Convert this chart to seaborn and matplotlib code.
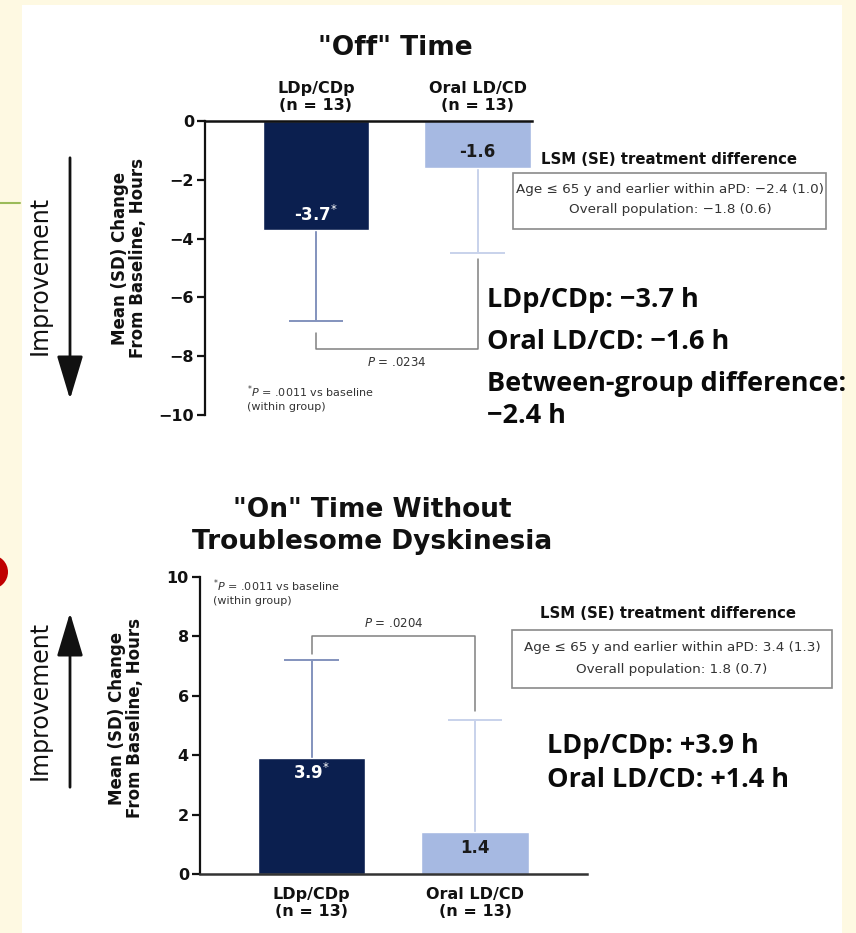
import matplotlib
matplotlib.use("Agg")
import matplotlib.pyplot as plt
import seaborn as sns
import pandas as pd
from matplotlib.patches import Rectangle, Ellipse, FancyArrowPatch
from matplotlib.lines import Line2D

# ---------------- data ----------------
groups = ["LDp/CDp\n(n = 13)", "Oral LD/CD\n(n = 13)"]
off_means = [-3.7, -1.6]
off_sd = [3.1, 2.9]
off_labels = ["-3.7", "-1.6"]
on_means = [3.9, 1.4]
on_sd = [3.3, 3.8]
on_labels = ["3.9", "1.4"]
star = [True, False]
off_ticks = [0, -2, -4, -6, -8, -10]
on_ticks = [0, 2, 4, 6, 8, 10]
off_p = r"$\mathit{P}$ = .0234"
on_p = r"$\mathit{P}$ = .0204"
footnote = "$^{*}\\mathit{P}$ = .0011 vs baseline\n(within group)"
off_box = ["Age \u2264 65 y and earlier within aPD: \u22122.4 (1.0)", "Overall population: \u22121.8 (0.6)"]
on_box = ["Age \u2264 65 y and earlier within aPD: 3.4 (1.3)", "Overall population: 1.8 (0.7)"]
off_summary = ["LDp/CDp: \u22123.7 h", "Oral LD/CD: \u22121.6 h", "Between-group difference:", "\u22122.4 h"]
on_summary = ["LDp/CDp: +3.9 h", "Oral LD/CD: +1.4 h"]

# ---------------- style ----------------
sns.set_theme(style="white")
plt.rcParams['font.family'] = ['DejaVu Sans']
plt.rcParams['axes.unicode_minus'] = True
plt.rcParams['mathtext.fontset'] = 'dejavusans'

W, H = 856, 933
fig = plt.figure(figsize=(W / 100, H / 100), dpi=100)
CREAM = "#FEF9E2"
fig.patch.set_facecolor(CREAM)

def fx(px):
    return px / W

def fy(py):
    return 1 - py / H

# white panel
fig.patches.append(Rectangle((fx(22), 0), fx(842) - fx(22), fy(5), transform=fig.transFigure,
                             facecolor="white", edgecolor="none", zorder=-5))
# decorative green line and red dot at left edge
fig.add_artist(Line2D([0, fx(20)], [fy(203), fy(203)], color="#9BBB59", lw=1.5, transform=fig.transFigure))
fig.add_artist(Ellipse((fx(-9), fy(572)), 34 / W, 34 / H, transform=fig.transFigure,
                       facecolor="#C00000", edgecolor="none"))

DARK = "#0B1F4F"
LIGHT = "#A6B9E2"
ERR_D = "#8393BD"
ERR_L = "#C8D2EB"
GRAY = "#808080"
INK = "#111111"
NOTE = "#333333"


def make_axes(left, right, top, bottom):
    return fig.add_axes([fx(left), fy(bottom), fx(right) - fx(left), fy(top) - fy(bottom)])


def draw_bars(ax, means, sds, labels, txt_y, xlim, ylim, ticks):
    df = pd.DataFrame({"group": groups, "value": means})
    sns.barplot(data=df, x="group", y="value", hue="group", palette=[DARK, LIGHT],
                width=0.66, saturation=1, legend=False, ax=ax, errorbar=None, zorder=2)
    for i, (m, s, c) in enumerate(zip(means, sds, [ERR_D, ERR_L])):
        end = m - s if m < 0 else m + s
        ax.vlines(i, m, end, color=c, lw=1.4, zorder=1)
        ax.hlines(end, i - 0.168, i + 0.168, color=c, lw=1.4, zorder=1)
    for i, (lab, ty) in enumerate(zip(labels, txt_y)):
        col = "white" if i == 0 else "#1a1a1a"
        s = lab + (r"$^{*}$" if star[i] else "")
        ax.text(i, ty, s, ha="center", va="center", color=col, fontsize=12, fontweight="bold", zorder=3)
    ax.set_xlim(*xlim)
    ax.set_ylim(*ylim)
    ax.set_yticks(ticks)
    ax.set_yticklabels([f"{t}".replace("-", "\u2212") for t in ticks], fontsize=11.5,
                       fontweight="bold", color=INK)
    ax.set_xlabel("")
    ax.set_ylabel("")
    ax.set_facecolor("none")
    ax.spines["right"].set_visible(False)
    ax.spines["left"].set_linewidth(1.6)
    ax.spines["left"].set_color(INK)
    ax.tick_params(axis="y", length=6, width=1.6, color=INK, pad=2, left=True)
    ax.tick_params(axis="x", length=0)


# ---------------- top chart ----------------
ax1 = make_axes(205, 532, 121, 415)
draw_bars(ax1, off_means, off_sd, off_labels, [-3.2, -1.05], (-0.687, 1.337), (-10, 0), off_ticks)
ax1.spines["bottom"].set_visible(False)
ax1.spines["top"].set_linewidth(1.8)
ax1.spines["top"].set_color(INK)
ax1.xaxis.tick_top()
ax1.set_xticks([0, 1])
ax1.set_xticklabels(groups, fontsize=11.5, fontweight="bold", linespacing=1.15, color=INK)
ax1.tick_params(axis="x", pad=6)
# significance bracket
ax1.plot([0, 0, 1, 1], [-7.2, -7.75, -7.75, -4.7], color=GRAY, lw=1.1, clip_on=False, zorder=1)
ax1.text(0.5, -8.2, off_p, ha="center", va="center", fontsize=8.5, color=NOTE)
ax1.text(-0.43, -9.42, footnote, ha="left", va="center", fontsize=8, color=NOTE, linespacing=1.25)

fig.text(fx(395), fy(48), "\"Off\" Time", ha="center", va="center", fontsize=19, fontweight="bold", color=INK)
fig.text(fx(129), fy(258), "Mean (SD) Change\nFrom Baseline, Hours", rotation=90, ha="center", va="center",
         fontsize=12, fontweight="bold", linespacing=1.0, color=INK)
fig.text(fx(40), fy(275), "Improvement", rotation=90, ha="center", va="center", fontsize=17, color=INK)
fig.add_artist(FancyArrowPatch((fx(70), fy(155)), (fx(70), fy(402)), transform=fig.transFigure,
                               arrowstyle="-|>,head_length=1.5,head_width=0.45", mutation_scale=18,
                               color=INK, lw=2.0))

fig.text(fx(669), fy(159), "LSM (SE) treatment difference", ha="center", va="center",
         fontsize=10.7, fontweight="bold", color=INK)
fig.patches.append(Rectangle((fx(513), fy(229)), fx(826) - fx(513), fy(173) - fy(229),
                             transform=fig.transFigure, facecolor="white", edgecolor="#8a8a8a", lw=1.2))
fig.text(fx(670), fy(189), off_box[0], ha="center", va="center", fontsize=9.7, color=NOTE)
fig.text(fx(670), fy(210), off_box[1], ha="center", va="center", fontsize=9.7, color=NOTE)

for txt, yy in zip(off_summary, [300, 342, 384, 416]):
    fig.text(fx(487), fy(yy), txt, ha="left", va="center", fontsize=19.5, fontweight="bold",
             family=["Open Sans", "DejaVu Sans"], color="#0a0a0a")

# ---------------- bottom chart ----------------
ax2 = make_axes(200, 587, 577, 874)
draw_bars(ax2, on_means, on_sd, on_labels, [3.4, 0.87], (-0.682, 1.685), (0, 10), on_ticks)
ax2.spines["top"].set_visible(False)
ax2.spines["bottom"].set_linewidth(1.8)
ax2.spines["bottom"].set_color("#333333")
ax2.set_xticks([0, 1])
ax2.set_xticklabels(groups, fontsize=11.5, fontweight="bold", linespacing=1.25, color=INK)
ax2.tick_params(axis="x", pad=9)
ax2.plot([0, 0, 1, 1], [7.4, 8.0, 8.0, 5.5], color=GRAY, lw=1.1, clip_on=False, zorder=1)
ax2.text(0.5, 8.45, on_p, ha="center", va="center", fontsize=8.5, color=NOTE)
ax2.text(-0.6, 9.5, footnote, ha="left", va="center", fontsize=8, color=NOTE, linespacing=1.25)

fig.text(fx(372), fy(526), "\"On\" Time Without\nTroublesome Dyskinesia", ha="center", va="center",
         fontsize=19, fontweight="bold", linespacing=1.3, color=INK)
fig.text(fx(126), fy(718), "Mean (SD) Change\nFrom Baseline, Hours", rotation=90, ha="center", va="center",
         fontsize=12, fontweight="bold", linespacing=1.0, color=INK)
fig.text(fx(40), fy(700), "Improvement", rotation=90, ha="center", va="center", fontsize=17, color=INK)
fig.add_artist(FancyArrowPatch((fx(70), fy(790)), (fx(70), fy(610)), transform=fig.transFigure,
                               arrowstyle="-|>,head_length=1.5,head_width=0.45", mutation_scale=18,
                               color=INK, lw=2.0))

fig.text(fx(668), fy(614), "LSM (SE) treatment difference", ha="center", va="center",
         fontsize=10.7, fontweight="bold", color=INK)
fig.patches.append(Rectangle((fx(512), fy(688)), fx(832) - fx(512), fy(630) - fy(688),
                             transform=fig.transFigure, facecolor="white", edgecolor="#8a8a8a", lw=1.2))
fig.text(fx(672), fy(648), on_box[0], ha="center", va="center", fontsize=9.7, color=NOTE)
fig.text(fx(672), fy(669), on_box[1], ha="center", va="center", fontsize=9.7, color=NOTE)

for txt, yy in zip(on_summary, [746, 780]):
    fig.text(fx(547), fy(yy), txt, ha="left", va="center", fontsize=19.5, fontweight="bold",
             family=["Open Sans", "DejaVu Sans"], color="#0a0a0a")

fig.savefig("out.png", dpi=100, facecolor=fig.get_facecolor())
